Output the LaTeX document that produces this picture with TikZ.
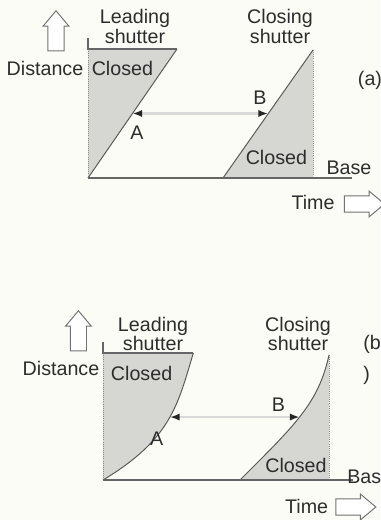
\documentclass[tikz,border=0pt]{standalone}
\usepackage{fontspec}
\setmainfont{Liberation Sans}
\usetikzlibrary{arrows.meta,shapes.arrows}
\definecolor{paper}{RGB}{252,252,246}
\definecolor{shade}{RGB}{214,214,210}
\definecolor{ink}{RGB}{45,45,45}
\tikzset{
  axisline/.style={line width=1.1pt, draw=black!60, line cap=butt},
  edgeline/.style={line width=0.7pt, draw=black!65},
  dotedge/.style={line width=0.5pt, draw=black!45, densely dotted},
  closedfill/.style={fill=shade},
  gaparrow/.style={line width=1.6pt, draw=black!15,
    {Latex[black!85,length=2.4mm,width=1.8mm]}-{Latex[black!85,length=2.4mm,width=1.8mm]}},
  lbl/.style={font=\fontsize{14}{12.8}\selectfont, text=ink, inner sep=0pt, align=center},
  blockarrow/.style={single arrow, draw=black!55, line width=0.7pt, fill=white,
    minimum height=1cm, minimum width=0.62cm, inner xsep=0pt, inner ysep=0.19cm,
    single arrow head extend=0.12cm, single arrow tip angle=80},
}
\begin{document}
\begin{tikzpicture}
\useasboundingbox (0,0) rectangle (9.5,13);
\fill[paper] (0,0) rectangle (9.5,13);
\coordinate (a-axistop) at (2.2,12.05);
\coordinate (a-topleft) at (2.2,11.775);
\coordinate (a-origin) at (2.2,8.55);
\coordinate (a-leadtop) at (4.425,11.775);
\coordinate (a-baseend) at (8.8,8.55);
\coordinate (a-closebot) at (5.575,8.55);
\coordinate (a-closetop) at (7.825,11.75);
\coordinate (a-closefoot) at (7.825,8.55);
\fill[closedfill] (a-origin) -- (a-leadtop) -- (a-topleft) -- cycle;
\fill[closedfill] (a-closebot) -- (a-closetop) -- (a-closefoot) -- cycle;
\draw[dotedge] (a-topleft) -- (a-origin);
\draw[dotedge] (a-closetop) -- (a-closefoot);
\draw[axisline] (a-axistop) -- (a-topleft) -- (a-leadtop);
\draw[edgeline] (a-origin) -- coordinate[pos=0.5] (a-ptA) (a-leadtop);
\draw[edgeline] (a-closebot) -- coordinate[pos=0.5] (a-ptB) (a-closetop);
\draw[axisline] (a-origin) -- (a-baseend);
\draw[gaparrow] (a-ptA) -- (a-ptA -| a-ptB);
\node[lbl] (a-lead) at (3.375,12.34) {Leading\\shutter};
\node[lbl] (a-close) at (7.0,12.34) {Closing\\shutter};
\node[lbl] (a-closed1) at (3.06,11.3) {Closed};
\node[lbl] (a-closed2) at (6.91,9.075) {Closed};
\node[lbl] (a-A) at (3.425,9.675) {A};
\node[lbl] (a-B) at (6.5,10.55) {B};
\node[lbl] (a-dist) at (1.125,11.3) {Distance};
\node[lbl] (a-tag) at (9.25,11.0) {(a)};
\node[lbl] (a-base) at (8.725,8.8) {Base};
\node[lbl] (a-time) at (7.825,7.95) {Time};
\node[blockarrow, rotate=90] (a-uparr) at (1.4,12.11) {};
\node[blockarrow] (a-timearr) at (8.99,7.9) {};
\coordinate (b-axistop) at (2.575,4.45);
\coordinate (b-topleft) at (2.575,4.175);
\coordinate (b-origin) at (2.575,1.0);
\coordinate (b-leadtop) at (4.833,4.175);
\coordinate (b-baseend) at (8.825,1.0);
\coordinate (b-closebot) at (6.0,1.0);
\coordinate (b-closetop) at (8.225,4.125);
\coordinate (b-closefoot) at (8.225,1.0);
\fill[closedfill] (b-origin) .. controls (4.275,2.02) and (4.443,2.875) .. (b-leadtop) -- (b-topleft) -- cycle;
\fill[closedfill] (b-closebot) .. controls (7.4,2.4) and (7.961,2.925) .. (b-closetop) -- (b-closefoot) -- cycle;
\draw[dotedge] (b-topleft) -- (b-origin);
\draw[dotedge] (b-closetop) -- (b-closefoot);
\draw[axisline] (b-axistop) -- (b-topleft) -- (b-leadtop);
\draw[edgeline] (b-origin) .. controls (4.275,2.02) and (4.443,2.875) .. coordinate[pos=0.53] (b-ptA) (b-leadtop);
\draw[edgeline] (b-closebot) .. controls (7.4,2.4) and (7.961,2.925) .. coordinate[pos=0.477] (b-ptB) (b-closetop);
\draw[axisline] (b-origin) -- (b-baseend);
\draw[gaparrow] (b-ptA) -- (b-ptA -| b-ptB);
\node[lbl] (b-lead) at (3.825,4.65) {Leading\\shutter};
\node[lbl] (b-close) at (7.45,4.65) {Closing\\shutter};
\node[lbl] (b-closed1) at (3.54,3.675) {Closed};
\node[lbl] (b-closed2) at (7.4,1.375) {Closed};
\node[lbl] (b-A) at (3.917,2.04) {A};
\node[lbl] (b-B) at (6.958,2.875) {B};
\node[lbl] (b-dist) at (1.525,3.8) {Distance};
\node[lbl, anchor=north west, align=left] (b-tag) at (9.075,4.62) {(b\\[8pt])};
\node[lbl, anchor=west] (b-base) at (8.675,1.075) {Bas};
\node[lbl] (b-time) at (7.667,0.333) {Time};
\node[blockarrow, rotate=90] (b-uparr) at (1.96,4.61) {};
\node[blockarrow] (b-timearr) at (8.775,0.325) {};
\end{tikzpicture}
\end{document}
